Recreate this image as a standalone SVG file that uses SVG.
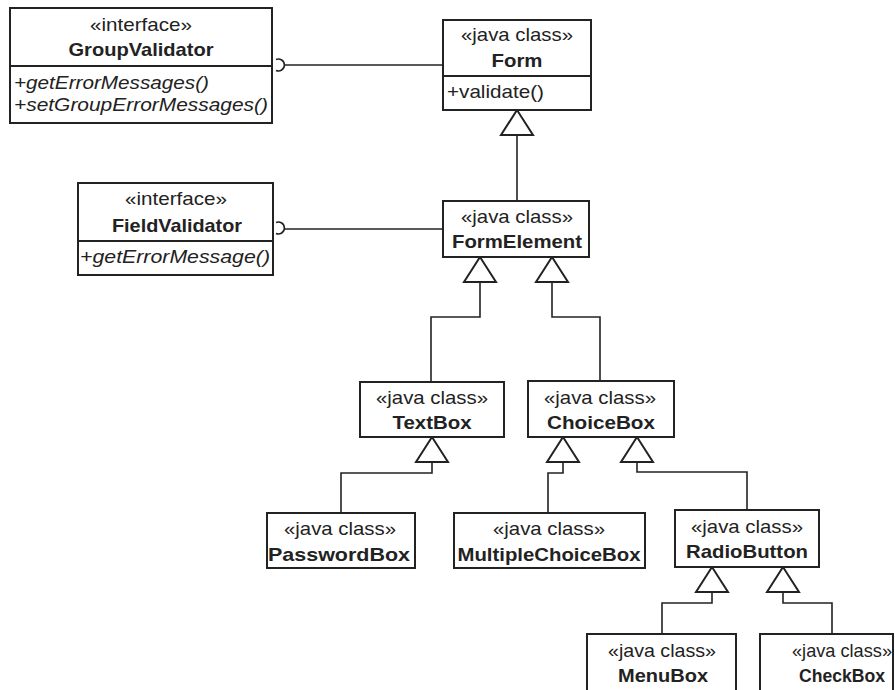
<svg xmlns="http://www.w3.org/2000/svg" width="895" height="690" viewBox="0 0 895 690">
  <style>
    .box { fill: #ffffff; stroke: #222222; stroke-width: 2; }
    .div { stroke: #222222; stroke-width: 1.8; }
    text { font-family: "Liberation Sans", Arial, sans-serif; font-size: 19px; fill: #222222; }
    .st { text-anchor: middle; }
    .nm { text-anchor: middle; font-weight: bold; }
    .op { font-style: italic; }
    .cn { fill: none; stroke: #222222; stroke-width: 1.6; }
    .gen { fill: #ffffff; stroke: #222222; stroke-width: 2; }
  </style>
  <rect width="895" height="690" fill="#ffffff"/>

  <!-- connectors -->
  <g id="connectors">
    <!-- required-interface sockets -->
    <path class="cn" d="M276 59.5 A6 6 0 1 1 276 70.5"/>
    <line class="cn" x1="284.5" y1="65" x2="443" y2="65"/>
    <path class="cn" d="M276 222.5 A6 6 0 1 1 276 233.5"/>
    <line class="cn" x1="284.5" y1="229" x2="443" y2="229"/>

    <!-- generalization lines -->
    <polyline class="cn" points="517,135 517,201"/>
    <polyline class="cn" points="480,282 480,317 431,317 431,382"/>
    <polyline class="cn" points="552,282 552,317 600,317 600,381"/>
    <polyline class="cn" points="432,462 432,473 341,473 341,513"/>
    <polyline class="cn" points="563,462 563,473 548,473 548,513"/>
    <polyline class="cn" points="637,462 637,472 747,472 747,510"/>
    <polyline class="cn" points="712,592 712,603 662,603 662,634"/>
    <polyline class="cn" points="783,592 783,603 832,603 832,634"/>

    <!-- hollow generalization heads -->
    <polygon class="gen" points="517,110 501,135 533,135"/>
    <polygon class="gen" points="480,257 464,282 496,282"/>
    <polygon class="gen" points="552,257 536,282 568,282"/>
    <polygon class="gen" points="432,437 416,462 448,462"/>
    <polygon class="gen" points="563,437 547,462 579,462"/>
    <polygon class="gen" points="637,437 621,462 653,462"/>
    <polygon class="gen" points="712,567 696,592 728,592"/>
    <polygon class="gen" points="783,567 767,592 799,592"/>
  </g>

  <g id="GroupValidator">
    <rect class="box" x="10" y="8" width="262" height="115"/>
    <line class="div" x1="10" y1="66" x2="272" y2="66"/>
    <text class="st" x="141" y="31" textLength="102" lengthAdjust="spacingAndGlyphs">«interface»</text>
    <text class="nm" x="141" y="56" textLength="145" lengthAdjust="spacingAndGlyphs">GroupValidator</text>
    <text class="op" x="14" y="89" textLength="195" lengthAdjust="spacingAndGlyphs">+getErrorMessages()</text>
    <text class="op" x="14" y="111" textLength="254" lengthAdjust="spacingAndGlyphs">+setGroupErrorMessages()</text>
  </g>

  <g id="Form">
    <rect class="box" x="443" y="20" width="148" height="90"/>
    <line class="div" x1="443" y1="76" x2="591" y2="76"/>
    <text class="st" x="517" y="41" textLength="112" lengthAdjust="spacingAndGlyphs">«java class»</text>
    <text class="nm" x="517" y="67" textLength="51" lengthAdjust="spacingAndGlyphs">Form</text>
    <text x="447" y="98" textLength="97" lengthAdjust="spacingAndGlyphs">+validate()</text>
  </g>

  <g id="FieldValidator">
    <rect class="box" x="78" y="183" width="195" height="92"/>
    <line class="div" x1="78" y1="241" x2="273" y2="241"/>
    <text class="st" x="176" y="205" textLength="102" lengthAdjust="spacingAndGlyphs">«interface»</text>
    <text class="nm" x="177" y="232" textLength="130" lengthAdjust="spacingAndGlyphs">FieldValidator</text>
    <text class="op" x="80" y="263" textLength="190" lengthAdjust="spacingAndGlyphs">+getErrorMessage()</text>
  </g>

  <g id="FormElement">
    <rect class="box" x="443" y="201" width="146" height="56"/>
    <text class="st" x="517" y="223" textLength="112" lengthAdjust="spacingAndGlyphs">«java class»</text>
    <text class="nm" x="517" y="248" textLength="130" lengthAdjust="spacingAndGlyphs">FormElement</text>
  </g>

  <g id="TextBox">
    <rect class="box" x="360" y="382" width="144" height="55"/>
    <text class="st" x="432" y="404" textLength="112" lengthAdjust="spacingAndGlyphs">«java class»</text>
    <text class="nm" x="432" y="429" textLength="79" lengthAdjust="spacingAndGlyphs">TextBox</text>
  </g>

  <g id="ChoiceBox">
    <rect class="box" x="528" y="381" width="146" height="56"/>
    <text class="st" x="600" y="404" textLength="112" lengthAdjust="spacingAndGlyphs">«java class»</text>
    <text class="nm" x="601" y="429" textLength="108" lengthAdjust="spacingAndGlyphs">ChoiceBox</text>
  </g>

  <g id="PasswordBox">
    <rect class="box" x="267" y="513" width="148" height="55"/>
    <text class="st" x="340" y="535" textLength="112" lengthAdjust="spacingAndGlyphs">«java class»</text>
    <text class="nm" x="339" y="561" textLength="142" lengthAdjust="spacingAndGlyphs">PasswordBox</text>
  </g>

  <g id="MultipleChoiceBox">
    <rect class="box" x="454" y="513" width="191" height="55"/>
    <text class="st" x="549" y="535" textLength="112" lengthAdjust="spacingAndGlyphs">«java class»</text>
    <text class="nm" x="549" y="561" textLength="183" lengthAdjust="spacingAndGlyphs">MultipleChoiceBox</text>
  </g>

  <g id="RadioButton">
    <rect class="box" x="675" y="510" width="144" height="57"/>
    <text class="st" x="747" y="533" textLength="112" lengthAdjust="spacingAndGlyphs">«java class»</text>
    <text class="nm" x="747" y="558" textLength="122" lengthAdjust="spacingAndGlyphs">RadioButton</text>
  </g>

  <g id="MenuBox">
    <rect class="box" x="587" y="634" width="149" height="70"/>
    <text class="st" x="662" y="657" textLength="108" lengthAdjust="spacingAndGlyphs">«java class»</text>
    <text class="nm" x="663" y="682" textLength="90" lengthAdjust="spacingAndGlyphs">MenuBox</text>
  </g>

  <g id="CheckBox">
    <rect class="box" x="760" y="634" width="133" height="70"/>
    <text class="st" x="842" y="657" textLength="100" lengthAdjust="spacingAndGlyphs">«java class»</text>
    <text class="nm" x="842" y="682" textLength="86" lengthAdjust="spacingAndGlyphs">CheckBox</text>
  </g>
</svg>
